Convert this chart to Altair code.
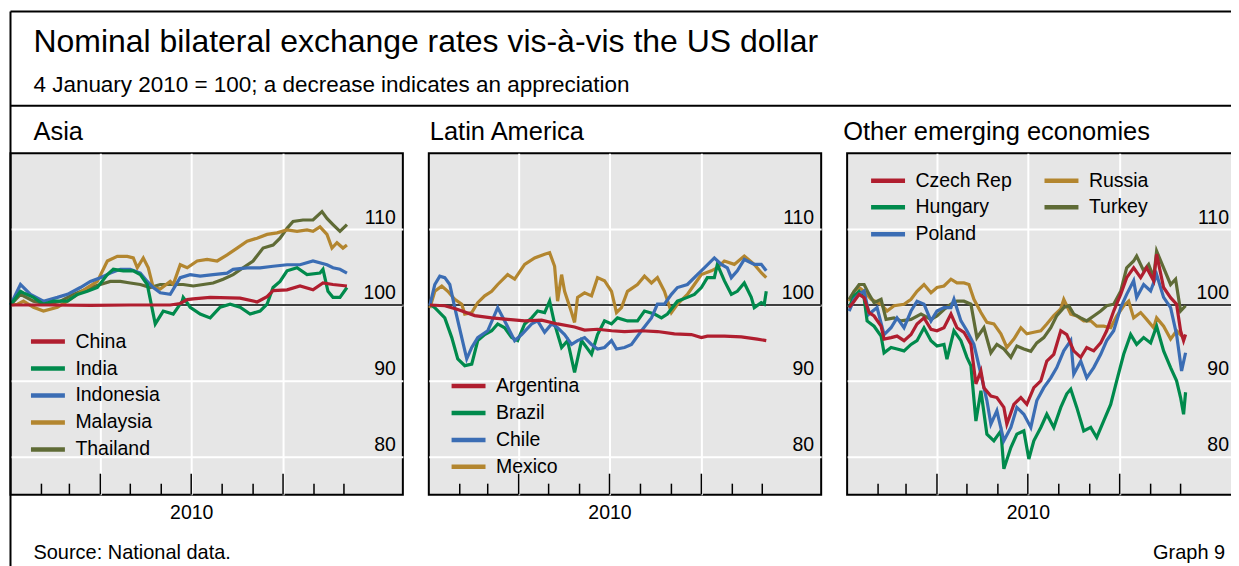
import altair as alt
import pandas as pd

FONT = "Liberation Sans"
TEXT = "#000000"
BG = "#e6e6e6"
RED, GREEN, BLUE, OCHRE, OLIVE = "#b01e2f", "#008a4c", "#3b6db4", "#b3862f", "#5f6b36"

TITLE = "Nominal bilateral exchange rates vis-à-vis the US dollar"
SUBTITLE = "4 January 2010 = 100; a decrease indicates an appreciation"
PANEL_TITLES = ["Asia", "Latin America", "Other emerging economies"]
SOURCE = "Source: National data."
GRAPH = "Graph 9"
YEAR_LABEL = "2010"
Y_TICKS = [80, 90, 100, 110]
MAJOR_MONTHS = [4, 7, 10]
MINOR_MONTHS = [2, 3, 5, 6, 8, 9, 11, 12]

# days after 1 January 2010, index values (4 January 2010 = 100)
# ---- Asia
CHINA_D = [0, 40, 80, 120, 160, 170, 177, 183, 200, 230, 247, 257, 263, 277, 290, 303, 313, 323, 337]
CHINA_V = [100.0, 100.0, 99.95, 100.0, 100.0, 100.2, 100.7, 100.8, 101.0, 100.9, 100.4, 101.1, 101.9, 102.0, 102.5, 102.0, 102.9, 102.7, 102.5]
INDIA_D = [0, 10, 13, 23, 33, 43, 57, 67, 77, 87, 97, 103, 113, 123, 130, 137, 143, 145, 153, 163, 172, 173, 180, 190, 200, 210, 220, 230, 240, 250, 257, 263, 270, 277, 287, 297, 310, 313, 318, 323, 330, 337]
INDIA_V = [100.0, 101.8, 101.6, 101.0, 100.1, 100.5, 100.5, 101.4, 101.8, 102.3, 104.0, 104.7, 104.5, 104.5, 104.0, 102.7, 98.8, 97.5, 99.2, 98.8, 100.5, 101.0, 99.7, 98.8, 98.3, 99.7, 100.1, 99.7, 98.8, 99.2, 100.1, 102.3, 103.1, 104.5, 104.9, 104.0, 104.2, 104.7, 101.8, 101.0, 101.0, 102.3]
INDO_D = [0, 10, 20, 33, 47, 57, 70, 80, 90, 100, 110, 120, 130, 137, 143, 150, 160, 170, 180, 190, 203, 217, 223, 237, 250, 263, 277, 290, 303, 317, 323, 330, 337]
INDO_V = [100.0, 102.7, 101.4, 100.5, 101.0, 101.4, 102.3, 103.1, 103.6, 104.2, 104.7, 104.7, 104.2, 103.1, 102.3, 101.6, 101.4, 103.6, 104.0, 103.8, 104.0, 104.2, 104.7, 104.9, 104.9, 105.1, 105.3, 105.3, 105.8, 105.3, 104.9, 104.7, 104.2]
MALAY_D = [0, 7, 13, 23, 33, 47, 57, 67, 77, 87, 97, 107, 117, 123, 127, 133, 138, 143, 150, 160, 163, 170, 177, 187, 197, 207, 217, 227, 237, 247, 257, 267, 277, 287, 297, 303, 310, 317, 322, 327, 333, 337]
MALAY_V = [100.0, 100.1, 100.5, 99.7, 99.2, 99.7, 100.5, 101.4, 102.3, 103.1, 105.8, 106.4, 106.4, 106.2, 104.9, 106.2, 104.9, 102.3, 102.1, 103.1, 102.7, 105.3, 104.9, 105.8, 106.0, 105.8, 106.6, 107.5, 108.4, 108.8, 109.3, 109.5, 109.9, 109.7, 109.9, 109.7, 110.3, 109.3, 107.5, 108.2, 107.5, 107.9]
THAI_D = [0, 10, 23, 37, 50, 63, 80, 90, 100, 110, 120, 130, 140, 150, 163, 173, 183, 193, 203, 213, 223, 233, 243, 253, 263, 270, 277, 283, 293, 303, 312, 317, 323, 330, 337]
THAI_V = [100.0, 101.4, 100.5, 100.1, 100.5, 101.4, 102.3, 102.7, 103.1, 103.1, 102.9, 102.7, 102.3, 102.7, 102.7, 102.7, 102.5, 102.7, 102.9, 103.4, 104.0, 104.9, 105.8, 107.5, 107.9, 108.8, 110.1, 111.0, 111.2, 111.2, 112.3, 111.4, 110.6, 109.7, 110.6]

# ---- Latin America
ARG_D = [1, 16, 29, 46, 63, 79, 96, 113, 129, 146, 156, 169, 183, 196, 213, 229, 246, 263, 273, 279, 296, 313, 329, 338]
ARG_V = [100.0, 99.9, 99.4, 98.6, 98.3, 98.1, 97.9, 98.0, 97.5, 97.1, 96.7, 96.8, 96.6, 96.5, 96.6, 96.5, 96.2, 96.1, 95.7, 95.9, 95.9, 95.8, 95.5, 95.3]
BRA_D = [1, 6, 16, 23, 29, 36, 43, 49, 56, 63, 69, 76, 83, 89, 96, 103, 109, 116, 121, 126, 133, 139, 146, 153, 163, 169, 176, 183, 189, 199, 209, 216, 226, 233, 239, 249, 259, 266, 273, 279, 286, 289, 296, 303, 309, 316, 323, 326, 333, 336, 338]
BRA_V = [100.1, 99.65, 98.3, 95.7, 92.9, 92.0, 92.2, 95.3, 96.1, 96.6, 97.5, 97.0, 95.7, 95.3, 97.5, 98.3, 99.2, 99.0, 100.5, 97.5, 94.4, 95.3, 91.1, 95.3, 93.5, 96.1, 97.9, 97.5, 98.3, 97.9, 97.9, 99.2, 98.8, 98.3, 98.8, 100.5, 101.0, 101.4, 102.3, 103.6, 103.6, 105.35, 103.2, 101.4, 101.8, 102.9, 101.0, 99.65, 100.3, 100.1, 101.8]
CHILE_D = [1, 6, 11, 16, 21, 26, 33, 38, 43, 49, 59, 69, 76, 86, 93, 103, 109, 116, 123, 129, 136, 143, 149, 156, 163, 169, 176, 183, 188, 196, 203, 213, 223, 229, 236, 243, 249, 259, 269, 276, 286, 293, 299, 303, 309, 316, 326, 333, 338]
CHILE_V = [99.9, 102.7, 103.8, 103.6, 102.7, 99.65, 95.7, 92.9, 94.4, 95.7, 96.6, 99.65, 97.9, 95.3, 96.1, 97.5, 97.9, 96.4, 97.5, 97.0, 96.1, 94.8, 95.3, 95.7, 94.8, 94.2, 94.4, 95.3, 94.2, 94.4, 94.8, 96.6, 98.3, 100.1, 100.1, 101.4, 102.3, 102.7, 104.0, 104.9, 106.2, 105.35, 104.9, 103.6, 104.5, 106.0, 105.35, 105.35, 104.5]
MEX_D = [1, 6, 13, 19, 26, 33, 36, 43, 49, 56, 63, 69, 79, 86, 96, 106, 116, 121, 126, 129, 133, 136, 143, 146, 149, 156, 163, 169, 176, 183, 188, 193, 199, 209, 216, 223, 229, 236, 243, 249, 259, 266, 273, 283, 289, 296, 306, 316, 326, 333, 338]
MEX_V = [99.6, 101.8, 102.5, 101.8, 100.75, 100.1, 98.8, 99.0, 100.3, 101.2, 101.8, 102.7, 104.0, 103.4, 105.35, 106.2, 106.7, 106.9, 105.1, 100.5, 104.0, 101.8, 99.0, 97.7, 101.0, 101.6, 101.2, 103.6, 103.2, 101.8, 99.0, 99.65, 101.8, 102.7, 103.8, 102.9, 103.6, 101.8, 99.0, 100.1, 101.4, 102.7, 104.0, 104.5, 104.9, 105.8, 105.35, 106.45, 105.35, 104.25, 103.6]

# ---- Other emerging economies
CZE_D = [2, 7, 12, 17, 22, 27, 34, 37, 44, 50, 57, 64, 70, 77, 84, 90, 97, 104, 110, 117, 124, 129, 134, 137, 144, 150, 157, 160, 167, 174, 180, 187, 194, 200, 207, 214, 220, 227, 234, 240, 247, 254, 260, 267, 274, 280, 287, 294, 300, 307, 310, 317, 324, 330, 334, 337, 339]
CZE_V = [99.65, 100.5, 101.4, 100.96, 98.99, 98.55, 97.2, 95.5, 95.7, 95.9, 95.3, 96.1, 97.5, 98.3, 96.8, 96.6, 97.0, 98.8, 97.0, 96.4, 94.8, 89.6, 91.3, 89.1, 88.0, 87.8, 86.5, 84.3, 86.9, 87.8, 86.9, 89.1, 90.0, 92.6, 93.5, 96.6, 96.1, 93.95, 93.1, 94.4, 93.95, 95.0, 96.6, 99.2, 101.4, 103.6, 104.9, 103.6, 104.9, 103.2, 106.7, 102.3, 100.96, 100.1, 96.6, 95.3, 96.1]
HUN_D = [2, 7, 12, 17, 20, 27, 34, 37, 44, 50, 57, 64, 70, 77, 84, 90, 97, 100, 107, 114, 120, 124, 129, 134, 140, 147, 154, 157, 164, 170, 177, 182, 187, 194, 200, 207, 214, 220, 224, 230, 237, 244, 250, 257, 264, 270, 277, 284, 290, 297, 304, 310, 317, 324, 330, 334, 337, 339]
HUN_V = [99.65, 101.2, 101.8, 100.96, 97.9, 97.2, 95.9, 93.7, 94.4, 94.2, 93.95, 94.8, 95.3, 97.0, 95.3, 94.6, 94.8, 92.85, 96.6, 95.3, 93.1, 91.97, 84.7, 88.7, 82.98, 82.1, 83.4, 78.4, 81.2, 82.98, 83.4, 79.7, 82.1, 83.86, 85.6, 83.86, 86.5, 88.3, 88.9, 86.5, 83.4, 83.86, 82.54, 84.74, 86.9, 90.0, 93.5, 96.1, 94.8, 95.7, 95.0, 97.2, 93.95, 91.75, 90.0, 87.8, 85.6, 88.5]
POL_D = [2, 7, 12, 17, 22, 30, 37, 44, 50, 57, 64, 70, 77, 84, 90, 97, 104, 107, 114, 120, 127, 134, 140, 144, 150, 157, 164, 170, 177, 184, 190, 197, 204, 210, 217, 224, 227, 234, 240, 247, 254, 260, 267, 274, 280, 287, 290, 297, 304, 310, 317, 324, 330, 335, 339]
POL_V = [99.2, 100.75, 101.4, 101.84, 98.8, 99.65, 96.1, 97.0, 98.3, 97.0, 99.2, 100.5, 100.1, 97.9, 99.2, 99.65, 99.65, 100.75, 97.9, 96.6, 94.8, 90.9, 87.4, 84.3, 86.05, 82.1, 83.86, 86.5, 85.6, 83.86, 87.4, 89.1, 90.4, 91.75, 93.95, 95.3, 90.9, 92.6, 90.4, 91.75, 93.5, 95.3, 96.6, 99.65, 101.4, 103.2, 101.0, 102.7, 101.84, 104.0, 101.0, 99.65, 96.1, 91.3, 93.7]
RUS_D = [2, 7, 12, 17, 24, 34, 40, 47, 57, 64, 70, 77, 84, 90, 97, 104, 110, 117, 122, 127, 134, 140, 147, 154, 160, 167, 174, 180, 187, 194, 200, 207, 214, 217, 224, 230, 237, 244, 250, 257, 264, 270, 277, 282, 287, 294, 300, 307, 310, 317, 324, 330, 337]
RUS_V = [100.5, 101.8, 102.3, 101.8, 100.75, 100.1, 99.2, 99.9, 100.1, 100.75, 101.8, 102.7, 101.6, 102.3, 102.5, 103.4, 102.9, 102.9, 102.7, 100.75, 99.0, 97.7, 97.5, 96.2, 94.4, 95.5, 97.0, 96.2, 96.4, 96.6, 97.5, 98.6, 99.5, 100.75, 98.8, 98.55, 97.9, 97.9, 97.2, 97.2, 97.0, 98.55, 99.9, 100.5, 98.3, 99.0, 98.1, 97.0, 98.3, 97.2, 95.5, 96.6, 95.7]
TUR_D = [2, 7, 12, 17, 22, 27, 34, 39, 47, 54, 64, 74, 84, 90, 97, 104, 110, 117, 124, 130, 137, 144, 150, 157, 164, 170, 177, 184, 190, 197, 204, 210, 217, 222, 227, 234, 240, 247, 254, 260, 267, 274, 280, 287, 290, 297, 302, 307, 310, 317, 324, 329, 334, 339]
TUR_V = [100.75, 101.8, 102.7, 102.7, 101.4, 100.3, 100.75, 98.1, 98.3, 97.9, 98.1, 98.8, 98.1, 98.55, 99.4, 100.1, 100.5, 100.5, 100.1, 95.7, 97.0, 93.7, 94.8, 94.2, 93.1, 94.6, 94.2, 93.9, 95.0, 95.7, 97.0, 98.6, 99.65, 99.9, 98.8, 98.3, 97.9, 98.55, 99.2, 99.9, 100.1, 101.8, 104.9, 105.8, 106.45, 104.5, 105.35, 103.6, 107.1, 104.9, 102.7, 103.4, 99.2, 99.9]

BASE = pd.Timestamp("2010-01-01")
PW, PH = 393, 342          # panel plot size (1 px = 1 day)
# The page is clipped at its right edge, like the reference, which cuts the last panel.
# A white anchor rule fixes the drawing bounds so the negative padding below is exact.
ANCHOR_X1, ANCHOR_X2, ANCHOR_Y = -20, 1270, -155
PAD = {"left": -19.5, "top": -12, "right": -49.5, "bottom": 0}


def utc(y, m, d):
    return alt.DateTime(year=y, month=m, date=d, utc=True)


def frame(series):
    rows = []
    for name, days, vals in series:
        for d, v in zip(days, vals):
            rows.append({"series": name,
                         "date": (BASE + pd.Timedelta(days=d)).strftime("%Y-%m-%d"),
                         "value": v})
    return pd.DataFrame(rows)


def month_df(months):
    return pd.DataFrame({"date": ["2010-%02d-01" % m for m in months]})


ONE = pd.DataFrame({"k": [0]})


def txt(s, x, y, size, align="left"):
    return alt.Chart(pd.DataFrame({"t": [s]})).mark_text(
        align=align, baseline="alphabetic", font=FONT, fontSize=size, color=TEXT
    ).encode(text="t:N", x=alt.value(x), y=alt.value(y))


def hline(x1, x2, y, color="black", width=2):
    return alt.Chart(ONE).mark_rule(color=color, strokeWidth=width).encode(
        x=alt.value(x1), x2=alt.value(x2), y=alt.value(y))


def vline(x, y1, y2):
    return alt.Chart(ONE).mark_rule(color="black", strokeWidth=2).encode(
        x=alt.value(x), y=alt.value(y1), y2=alt.value(y2))


def legend(x, y, columns=1, colpad=10):
    return alt.Legend(orient="none", legendX=x, legendY=y, title=None, symbolType="stroke",
                      symbolSize=1156, symbolStrokeWidth=4.5, labelFont=FONT,
                      labelFontSize=19.5, labelColor=TEXT, labelOffset=8, rowPadding=0,
                      clipHeight=26.3, columns=columns, columnPadding=colpad, padding=0)


def panel(series, dom, rng, leg, extras, label_pad=-7.5):
    df = frame(series)
    xs = alt.Scale(type="utc", domain=[utc(2010, 1, 1), utc(2011, 1, 29)])
    ys = alt.Scale(domain=[75, 120], nice=False, zero=False)
    yaxis = alt.Axis(orient="right", values=Y_TICKS, grid=True, gridColor="white",
                     gridWidth=2, domain=False, ticks=False, tickSize=0,
                     labelAlign="right", labelPadding=label_pad, labelBaseline="alphabetic",
                     labelOffset=-6, labelFontSize=19.5, labelFont=FONT,
                     labelColor=TEXT, title=None)
    xaxis = alt.Axis(orient="bottom", values=[utc(2010, m, 1) for m in MAJOR_MONTHS],
                     grid=True, gridColor="white", gridWidth=2, domain=False,
                     ticks=False, tickSize=0, labelPadding=9,
                     labelExpr="utcmonth(datum.value) == 6 ? '%s' : ''" % YEAR_LABEL,
                     labelFontSize=19.5, labelFont=FONT, labelColor=TEXT, title=None)
    ref = alt.Chart(pd.DataFrame({"v": [100]})).mark_rule(color="black", strokeWidth=1.5).encode(
        y=alt.Y("v:Q", scale=ys, axis=yaxis))
    lines = alt.Chart(df).mark_line(strokeWidth=3.2).encode(
        x=alt.X("date:T", scale=xs, axis=xaxis),
        y=alt.Y("value:Q", scale=ys, axis=yaxis),
        color=alt.Color("series:N", scale=alt.Scale(domain=dom, range=rng), legend=leg),
    )
    major = alt.Chart(month_df(MAJOR_MONTHS)).mark_rule(color="black", strokeWidth=1.5).encode(
        x=alt.X("date:T", scale=xs, axis=xaxis), y=alt.value(PH), y2=alt.value(PH - 21))
    minor = alt.Chart(month_df(MINOR_MONTHS)).mark_rule(color="black", strokeWidth=1.5).encode(
        x=alt.X("date:T", scale=xs, axis=xaxis), y=alt.value(PH), y2=alt.value(PH - 11))
    return alt.layer(ref, lines, major, minor, *extras).properties(
        width=PW, height=PH,
        view=alt.ViewBackground(fill=BG, stroke="black", strokeWidth=2))


# panel-local decoration coordinates (origin = top-left of each panel)
extras1 = [
    hline(ANCHOR_X1, ANCHOR_X2, ANCHOR_Y, color="white", width=1),
    hline(0, ANCHOR_X2, -142), vline(0, -142, 416), hline(0, ANCHOR_X2, -47.5),
    txt(TITLE, 23, -101, 32), txt(SUBTITLE, 23, -61.5, 22.5),
    txt(PANEL_TITLES[0], 23, -13.5, 25.5), txt(SOURCE, 23, 406, 20),
]
extras2 = [txt(PANEL_TITLES[1], 1, -13.5, 25.5)]
extras3 = [txt(PANEL_TITLES[2], -4, -13.5, 25.5), txt(GRAPH, 378.7, 406, 20, align="right")]

p1 = panel([("Thailand", THAI_D, THAI_V), ("Malaysia", MALAY_D, MALAY_V),
            ("Indonesia", INDO_D, INDO_V), ("India", INDIA_D, INDIA_V),
            ("China", CHINA_D, CHINA_V)],
           ["China", "India", "Indonesia", "Malaysia", "Thailand"],
           [RED, GREEN, BLUE, OCHRE, OLIVE], legend(18, 175.5), extras1)
p2 = panel([("Mexico", MEX_D, MEX_V), ("Brazil", BRA_D, BRA_V),
            ("Chile", CHILE_D, CHILE_V), ("Argentina", ARG_D, ARG_V)],
           ["Argentina", "Brazil", "Chile", "Mexico"],
           [RED, GREEN, BLUE, OCHRE], legend(20.3, 220), extras2)
p3 = panel([("Russia", RUS_D, RUS_V), ("Turkey", TUR_D, TUR_V),
            ("Hungary", HUN_D, HUN_V), ("Poland", POL_D, POL_V),
            ("Czech Rep", CZE_D, CZE_V)],
           ["Czech Rep", "Hungary", "Poland", "Russia", "Turkey"],
           [RED, GREEN, BLUE, OCHRE, OLIVE], legend(21.5, 14, columns=2, colpad=29.7),
           extras3, label_pad=-11)

chart = alt.hconcat(p1, p2, p3, spacing=26, bounds="flush").resolve_scale(
    color="independent"
).properties(padding=PAD).configure(
    font=FONT, background="white"
).configure_view(stroke="transparent")

chart.save("out.html", embed_options={"renderer": "svg", "actions": False})
